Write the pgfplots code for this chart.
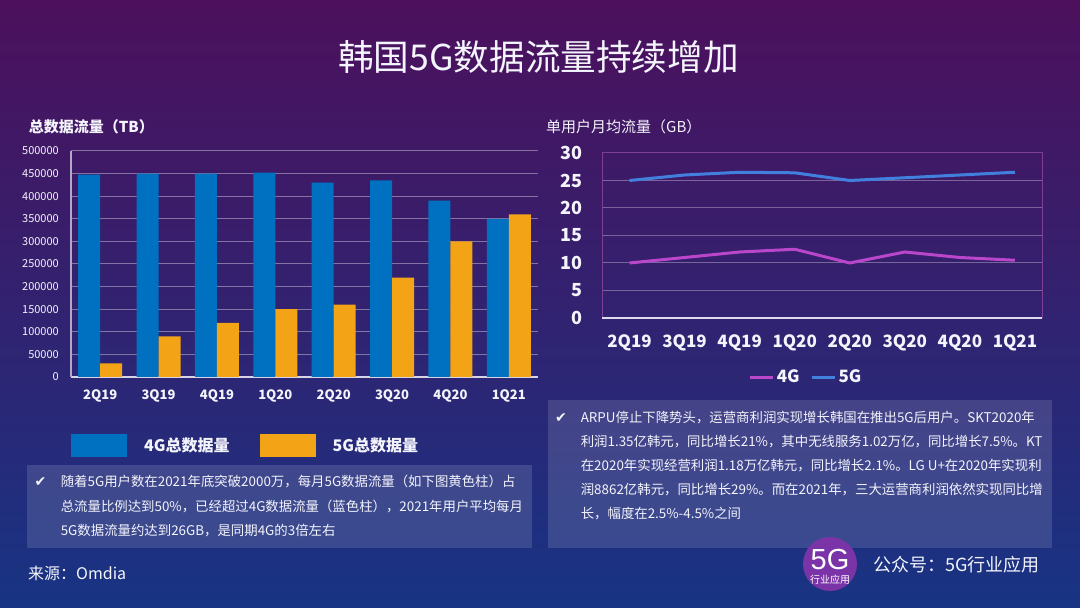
\documentclass[border=0pt]{standalone}
\usepackage{fontspec}
\setmainfont{Noto Sans CJK SC}
\newfontfamily\dejavu{DejaVu Sans}
\newfontfamily\arial{Liberation Sans}
\usepackage{pgfplots}
\pgfplotsset{compat=1.18}
\pgfplotsset{barleg/.style={legend image code/.code={%
    \fill[##1] (0pt,-11.5pt) rectangle (56pt,11.5pt);}}}

\definecolor{bgtop}{RGB}{76,16,92}
\definecolor{bgmid}{RGB}{60,26,114}
\definecolor{bgbot}{RGB}{24,52,132}
\definecolor{bar4g}{RGB}{0,112,192}
\definecolor{bar5g}{RGB}{242,163,22}
\definecolor{line4g}{RGB}{186,70,204}
\definecolor{line5g}{RGB}{66,128,222}
\definecolor{framepurple}{RGB}{125,62,150}
\definecolor{logopurple}{RGB}{122,52,168}
\definecolor{txt}{RGB}{244,244,252}

\newcommand{\fs}[1]{\fontsize{#1}{#1}\selectfont}

\begin{document}
\begin{tikzpicture}[x=1pt,y=1pt]
\path[use as bounding box] (0,0) rectangle (1080,608);
\shade[top color=bgtop, middle color=bgmid, bottom color=bgbot] (0,0) rectangle (1080,608);

% titles
\node[text=txt, font=\fs{35.6}] at (538.5,551) {韩国5G数据流量持续增加};
\node[text=txt, font=\bfseries\fs{15}, anchor=west, inner sep=0pt] at (28.6,481.3) {总数据流量（TB）};
\node[text=txt, font=\fs{15}, anchor=west, inner sep=0pt] at (546,481) {单用户月均流量（GB）};

% left: total traffic
\begin{axis}[
    at={(71pt,231pt)}, anchor=south west,
    scale only axis, width=467pt, height=226pt,
    ybar=0pt, bar width=22pt,
    xmin=-0.5, xmax=7.5,
    ymin=0, ymax=500000,
    xtick={0,...,7},
    xticklabels={2Q19,3Q19,4Q19,1Q20,2Q20,3Q20,4Q20,1Q21},
    ytick={0,50000,...,500000},
    scaled y ticks=false,
    /pgf/number format/fixed,
    /pgf/number format/1000 sep={},
    /pgf/number format/assume math mode=true,
    major tick length=0pt,
    axis lines*=left,
    x axis line style={draw={rgb,255:red,215;green,212;blue,232}, line width=1.5pt},
    y axis line style={draw={rgb,255:red,180;green,168;blue,200}, line width=1.2pt},
    ymajorgrids,
    grid style={white, opacity=0.38, line width=1pt},
    xticklabel style={text=txt, font=\bfseries\fs{13}, anchor=center, inner sep=0pt, yshift=-19pt},
    yticklabel style={text=txt, font=\fs{11}, anchor=east, inner sep=0pt, xshift=-12pt},
    legend style={at={(axis description cs:0,-0.301)}, anchor=west,
        draw=none, fill=none, inner sep=0pt, text=txt,
        font=\bfseries\fs{16}, legend columns=2,
        nodes={inner sep=0pt},
        /tikz/every odd column/.append style={column sep=17pt},
        /tikz/every even column/.append style={column sep=30pt}},
]
\addplot[fill=bar4g, draw=none, barleg] coordinates {
    (0,448000) (1,450000) (2,450000) (3,452000)
    (4,430000) (5,435000) (6,390000) (7,350000)};
\addplot[fill=bar5g, draw=none, barleg] coordinates {
    (0,30000) (1,90000) (2,120000) (3,150000)
    (4,160000) (5,220000) (6,300000) (7,360000)};
\legend{4G总数据量,5G总数据量}
\end{axis}

% right: per-user monthly traffic
\begin{axis}[
    at={(602pt,290pt)}, anchor=south west,
    scale only axis, width=440.5pt, height=165pt,
    xmin=-0.5, xmax=7.5,
    ymin=0, ymax=30,
    xtick={0,...,7},
    xticklabels={2Q19,3Q19,4Q19,1Q20,2Q20,3Q20,4Q20,1Q21},
    ytick={0,5,...,30},
    /pgf/number format/assume math mode=true,
    major tick length=0pt,
    axis line style={draw=framepurple, line width=1pt},
    ymajorgrids,
    grid style={white, opacity=0.32, line width=1pt},
    xticklabel style={text=txt, font=\bfseries\fs{17}, anchor=center, inner sep=0pt, yshift=-25pt},
    yticklabel style={text=txt, font=\bfseries\fs{18}, anchor=east, inner sep=0pt, xshift=-19pt},
    legend style={at={(axis description cs:0.461,-0.358)}, anchor=center,
        draw=none, fill=none, inner sep=0pt, text=txt,
        font=\bfseries\fs{17}, legend columns=2,
        nodes={inner sep=0pt},
        /tikz/every odd column/.append style={column sep=2pt},
        /tikz/every even column/.append style={column sep=11pt}},
    legend image code/.code={\draw[#1, line width=3pt] (0pt,0pt) -- (23pt,0pt);},
    after end axis/.code={\draw[draw={rgb,255:red,220;green,218;blue,236}, line width=1.3pt]
        (rel axis cs:0,0) -- (rel axis cs:1,0);},
]
\addplot[line4g, line width=3pt, no marks] coordinates {
    (0,10) (1,11) (2,12) (3,12.5) (4,10) (5,12) (6,11) (7,10.5)};
\addplot[line5g, line width=3pt, no marks] coordinates {
    (0,25) (1,26) (2,26.5) (3,26.4) (4,25) (5,25.5) (6,26) (7,26.5)};
\legend{4G,5G}
\end{axis}

% text boxes
\fill[white, opacity=0.13] (27,60) rectangle (532,143);
\node[text=txt, font=\dejavu\fs{14}] at (40.5,126.3) {✔};
\begin{scope}[every node/.style={text=txt, font=\fs{13.4}, anchor=west, inner sep=0pt}]
\node at (60.6,126.3) {随着5G用户数在2021年底突破2000万，每月5G数据流量（如下图黄色柱）占};
\node at (60.6,101.3) {总流量比例达到50\%，已经超过4G数据流量（蓝色柱），2021年用户平均每月};
\node at (60.6,77) {5G数据流量约达到26GB，是同期4G的3倍左右};
\end{scope}
\node[text=txt, font=\fs{16}, anchor=west, inner sep=0pt] at (28,35) {来源：Omdia};

\fill[white, opacity=0.13] (547.6,60) rectangle (1052,208);
\node[text=txt, font=\dejavu\fs{14}] at (561,190) {✔};
\begin{scope}[every node/.style={text=txt, font=\fs{13.4}, anchor=west, inner sep=0pt}]
\node at (580.6,190) {ARPU停止下降势头，运营商利润实现增长韩国在推出5G后用户。SKT2020年};
\node at (580.6,166) {利润1.35亿韩元，同比增长21\%，其中无线服务1.02万亿，同比增长7.5\%。KT};
\node at (580.6,142) {在2020年实现经营利润1.18万亿韩元，同比增长2.1\%。LG U+在2020年实现利};
\node at (580.6,118) {润8862亿韩元，同比增长29\%。而在2021年，三大运营商利润依然实现同比增};
\node at (580.6,94) {长，幅度在2.5\%-4.5\%之间};
\end{scope}

% logo
\fill[logopurple] (830,44) circle (27);
\node[text=white, font=\arial\fs{29}, inner sep=0pt] at (830,48.5) {5G};
\node[text=white, font=\fs{10}, inner sep=0pt] at (830,28) {行业应用};
\node[text=txt, font=\fs{18}, anchor=west, inner sep=0pt] at (873,43) {公众号：5G行业应用};
\end{tikzpicture}
\end{document}
